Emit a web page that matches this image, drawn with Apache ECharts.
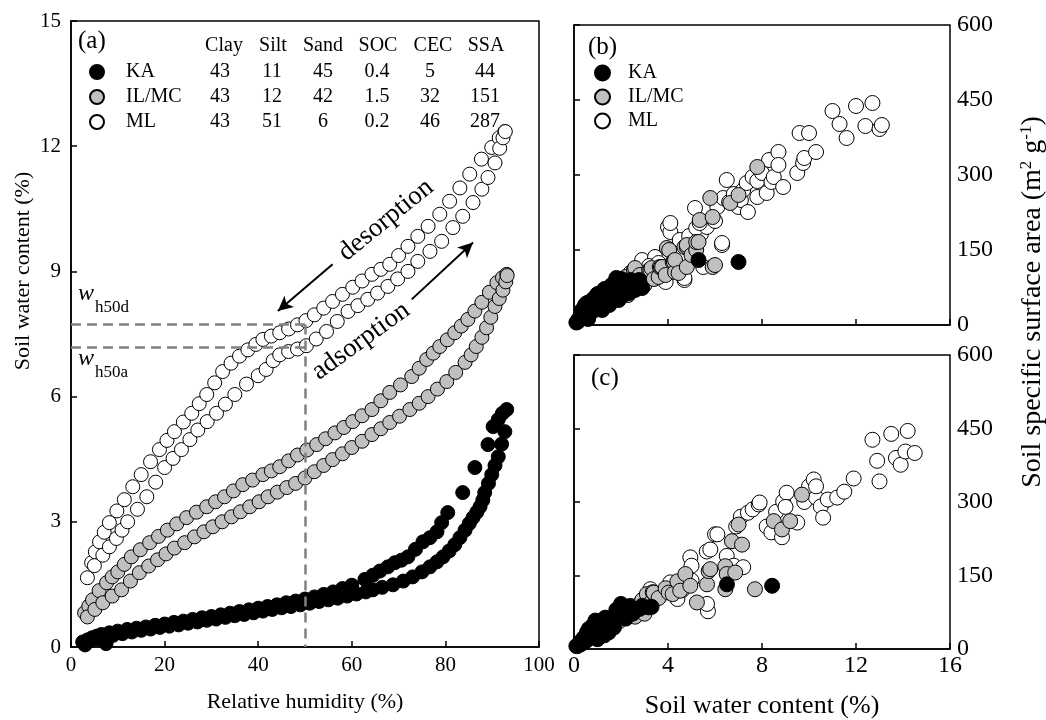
<!DOCTYPE html>
<html>
<head>
<meta charset="utf-8">
<script src="https://cdn.jsdelivr.net/npm/echarts@6/dist/echarts.min.js"></script>
<style>
  html, body { margin: 0; padding: 0; background: #fff; }
  #main { width: 1046px; height: 720px; }
</style>
</head>
<body>
<div id="main"></div>
<script>
// (a) sorption isotherms: [relative humidity %, water content %]
const kaDes = [[2.5,0.12],[3.5,0.17],[4.5,0.22],[5.5,0.26],[6.5,0.3],[8.2,0.34],[10,0.38],[12,0.42],[14,0.45],[16,0.48],[18,0.52],[20,0.55],[22,0.59],[24,0.62],[26,0.66],[28,0.7],[30,0.73],[32,0.77],[34,0.81],[36,0.85],[38,0.89],[40,0.93],[42,0.97],[44,1.01],[46,1.06],[48,1.1],[50,1.15],[52,1.2],[54,1.26],[56,1.32],[58,1.4],[60,1.48],[62.8,1.62],[64.5,1.72],[66,1.82],[67.7,1.92],[69.2,2.02],[70.6,2.08],[72,2.16],[73.6,2.34],[75.2,2.52],[76.7,2.62],[78.2,2.76],[79.2,2.98],[80.5,3.22],[83.7,3.7],[86.3,4.3],[89.1,4.85],[90.2,5.28],[91.3,5.45],[92.2,5.6],[93.1,5.69]];
const kaAds = [[3,0.05],[4,0.15],[5.5,0.2],[7.5,0.08],[9,0.28],[11,0.32],[13,0.36],[15,0.4],[17,0.43],[19,0.47],[21,0.5],[23,0.53],[25,0.57],[27,0.6],[29,0.64],[31,0.67],[33,0.71],[35,0.75],[37,0.78],[39,0.82],[41,0.86],[43,0.9],[45,0.94],[47,0.97],[49,1.01],[51,1.05],[53,1.09],[55,1.13],[57,1.17],[59,1.22],[61,1.27],[63,1.32],[64.5,1.37],[66.5,1.43],[68.8,1.49],[71,1.58],[73,1.68],[75,1.8],[76.7,1.92],[78.2,2.04],[79.5,2.16],[80.8,2.3],[82,2.45],[83.1,2.62],[84.2,2.8],[85.1,2.96],[85.9,3.1],[86.7,3.23],[87.4,3.36],[88,3.52],[88.4,3.7],[89.2,3.92],[89.9,4.13],[90.6,4.35],[91.3,4.56],[92,4.86],[92.7,5.16]];
const ilDes = [[2.9,0.82],[3.8,0.98],[4.6,1.13],[6,1.35],[7.6,1.54],[8.8,1.68],[10,1.8],[11.4,1.98],[12.9,2.16],[14.8,2.33],[16.8,2.5],[18.7,2.65],[20.6,2.8],[22.6,2.95],[24.7,3.1],[26.8,3.23],[29,3.36],[30.9,3.48],[32.8,3.6],[34.7,3.74],[36.7,3.89],[38.8,4],[41,4.13],[42.8,4.22],[44.6,4.32],[46.5,4.46],[48.4,4.6],[50.4,4.72],[52.5,4.85],[54.4,4.99],[56.4,5.13],[58.3,5.26],[60.2,5.4],[62.2,5.54],[64.3,5.69],[66.2,5.9],[68.1,6.1],[70.4,6.28],[72.8,6.48],[74.4,6.68],[76,6.89],[77.4,7.04],[78.8,7.2],[80.4,7.36],[82,7.53],[83.4,7.69],[84.8,7.85],[86.3,8.05],[87.8,8.26],[89.4,8.5],[91,8.73],[92.2,8.85],[93.1,8.93]];
const ilAds = [[3.5,0.72],[5.1,0.9],[6.8,1.06],[8.8,1.22],[10.8,1.37],[12.7,1.58],[14.6,1.78],[16.6,1.94],[18.5,2.09],[20.3,2.23],[22.1,2.37],[24.3,2.5],[26.4,2.64],[28.4,2.76],[30.3,2.88],[32.3,3],[34.3,3.12],[36.2,3.24],[38.2,3.36],[40.2,3.48],[42.1,3.6],[44.1,3.71],[46.1,3.82],[48,3.92],[50,4.05],[52,4.2],[54,4.35],[55.9,4.49],[58,4.63],[60,4.78],[62.2,4.93],[64.3,5.09],[66.2,5.23],[68.1,5.38],[70.2,5.53],[72.4,5.69],[74.4,5.84],[76.3,6],[78.3,6.18],[80.3,6.36],[82.2,6.58],[84.2,6.82],[85.5,7],[86.6,7.2],[87.8,7.42],[88.8,7.65],[89.7,7.9],[90.6,8.16],[91.5,8.35],[92.3,8.55],[92.9,8.75],[93.2,8.9]];
const mlDes = [[3.5,1.66],[4.4,2.02],[5.2,2.28],[6.1,2.52],[7.1,2.75],[8.2,2.98],[9.8,3.26],[11.4,3.53],[13.2,3.84],[15,4.13],[17,4.44],[18.9,4.73],[20.5,4.95],[22.1,5.16],[24,5.39],[25.8,5.6],[27.4,5.83],[29,6.05],[30.7,6.33],[32.4,6.6],[34.2,6.8],[36,6.97],[37.8,7.12],[39.5,7.25],[41,7.37],[42.8,7.45],[44.6,7.53],[46.5,7.62],[48.4,7.72],[50.2,7.82],[52,7.96],[54,8.12],[55.9,8.28],[58,8.45],[60.2,8.62],[62.2,8.77],[64.3,8.93],[66.2,9.05],[68.1,9.17],[70,9.38],[72,9.6],[74.1,9.84],[76.3,10.08],[78.8,10.37],[80.9,10.68],[83.1,11],[85.2,11.33],[87.7,11.69],[89.9,11.97],[91.5,12.2],[92.7,12.35]];
const mlAds = [[5,1.95],[6.8,2.2],[8.2,2.4],[9.7,2.6],[10.9,2.8],[12.1,3],[14.2,3.3],[16.2,3.6],[18.1,3.95],[20,4.3],[21.8,4.52],[23.6,4.73],[25.4,4.97],[27.1,5.2],[29.1,5.4],[31.1,5.6],[33,5.82],[35,6.05],[37.5,6.3],[40,6.5],[41.7,6.65],[43.2,6.86],[44.6,7],[46.5,7.08],[48.4,7.14],[50.3,7.22],[52.4,7.38],[54.6,7.56],[56.9,7.8],[59.2,8.04],[61.3,8.18],[63.4,8.33],[65.5,8.48],[67.7,8.64],[69.8,8.82],[72,9],[74.1,9.24],[76.7,9.48],[79.2,9.72],[81.6,10.05],[83.7,10.32],[85.9,10.65],[87.8,10.97],[89.1,11.25],[90.6,11.6],[91.6,11.95],[92.3,12.2],[92.8,12.35]];

// (b) and (c): [soil water content %, SSA m2/g]
const kaB = [[0.1,5],[0.2,12],[0.3,20],[0.34,30],[0.45,26],[0.47,40],[0.55,44],[0.6,12],[0.6,32],[0.68,24],[0.77,50],[0.8,40],[0.9,38],[0.9,56],[1,44],[1,62],[1.06,56],[1.06,36],[1.2,30],[1.2,48],[1.2,66],[1.3,72],[1.32,64],[1.4,56],[1.5,40],[1.55,60],[1.6,80],[1.7,76],[1.8,84],[1.8,94],[1.9,50],[2,92],[2.04,84],[2.1,60],[2.2,72],[2.34,64],[2.4,90],[2.5,78],[2.6,70],[2.68,86],[2.77,90],[2.9,74],[5.3,130],[7,126]];
const ilB = [[0.15,6],[0.3,12],[0.5,18],[0.7,26],[0.9,32],[1.1,40],[1.3,48],[1.5,56],[1.6,68],[1.8,64],[1.9,74],[2.17,80],[2.2,96],[2.3,60],[2.4,92],[2.55,110],[2.6,114],[2.8,100],[2.98,90],[3,80],[3.2,110],[3.25,110],[3.3,114],[3.4,92],[3.6,96],[3.65,116],[3.7,116],[3.75,116],[3.9,100],[3.95,154],[4.05,150],[4.2,126],[4.25,126],[4.3,106],[4.3,130],[4.45,104],[4.7,156],[4.8,116],[4.8,156],[4.8,160],[5,140],[5.2,150],[5.2,166],[5.3,166],[5.35,210],[5.8,254],[5.9,216],[5.9,116],[6,120],[6.65,244],[7,260],[7.8,316]];
const mlB = [[0.2,8],[0.35,14],[0.5,18],[0.7,24],[0.9,30],[1.1,36],[1.3,42],[1.5,48],[1.7,54],[1.9,60],[2.1,66],[2.3,74],[2.5,82],[2.7,92],[2.9,102],[2.4,104],[2.9,130],[3.45,136],[3.2,118],[3.6,124],[3.9,86],[4.1,112],[4.7,90],[4.7,94],[5.5,116],[4,196],[4.1,186],[4.1,204],[4.5,170],[4.9,178],[5.4,182],[5.15,234],[5.2,194],[5.65,196],[5.35,204],[5.9,214],[6,208],[6.1,236],[6.35,254],[6.5,290],[6.3,160],[6.3,164],[6.6,246],[6.8,262],[7,236],[7.1,250],[7.2,270],[7.35,284],[7.4,226],[7.6,296],[7.8,256],[7.8,288],[8,304],[8.2,264],[8.4,286],[8.5,296],[8.3,330],[8.7,346],[8.7,320],[8.9,276],[9.5,304],[9.75,324],[9.8,334],[9.6,384],[10,384],[10.3,346],[11,428],[11.3,402],[11.6,374],[12,438],[12.4,398],[12.7,444],[13,392],[13.1,400]];
const kaC = [[0.1,6],[0.25,14],[0.3,10],[0.4,22],[0.48,24],[0.5,16],[0.55,34],[0.63,41],[0.7,30],[0.8,48],[0.9,40],[0.91,58],[1,20],[1.05,34],[1.1,52],[1.2,46],[1.3,28],[1.33,64],[1.48,34],[1.5,56],[1.6,60],[1.7,44],[1.8,80],[1.83,68],[2,76],[2,92],[2.2,62],[2.26,85],[2.4,86],[2.5,72],[2.6,80],[2.8,82],[2.9,88],[3.18,85],[3.3,86],[6.51,132],[8.43,129]];
const ilC = [[0.15,6],[0.3,12],[0.5,18],[0.7,24],[0.9,30],[1.1,38],[1.3,44],[1.6,52],[1.7,58],[1.9,60],[2,72],[2.2,70],[2.4,88],[2.5,80],[2.6,66],[2.8,92],[2.9,100],[3,72],[3.1,112],[3.3,96],[3.35,116],[3.39,115],[3.6,104],[3.9,124],[4.03,115],[4.2,112],[4.4,138],[4.52,119],[4.74,153],[4.95,129],[5.23,95],[5.66,132],[5.73,159],[5.8,163],[6.44,169],[6.44,122],[6.5,153],[6.72,220],[6.86,156],[7,254],[7.15,213],[7.7,122],[8.5,261],[8.85,244],[9.2,261],[9.7,315]];
const mlC = [[0.2,8],[0.4,14],[0.6,20],[0.8,26],[1,32],[1.3,40],[1.6,48],[1.9,56],[2.2,64],[2.5,74],[2.8,84],[3,96],[3.25,122],[3.4,108],[4.1,136],[4.4,102],[4.6,120],[5,140],[5.7,77],[5.66,92],[4.95,187],[5,170],[5.65,199],[5.8,203],[6,234],[6.1,234],[6.5,190],[6.8,170],[7.2,167],[6.9,250],[7.1,270],[7.4,278],[7.6,285],[7.86,295],[7.9,299],[8.2,250],[8.4,238],[8.6,280],[8.85,228],[8.9,301],[9.05,319],[9,290],[9.5,258],[9.8,300],[10,332],[10.2,346],[10.3,309],[10.3,332],[10.5,291],[10.6,268],[10.8,305],[11.2,309],[11.5,321],[11.9,348],[12.7,427],[12.9,384],[13,342],[13.5,439],[13.7,390],[13.9,376],[14.1,403],[14.2,445],[14.5,400]];

// soil properties table in (a)
const propNames = ['Clay', 'Silt', 'Sand', 'SOC', 'CEC', 'SSA'];
const kaProps = ['43', '11', '45', '0.4', '5', '44'];
const ilProps = ['43', '12', '42', '1.5', '32', '151'];
const mlProps = ['43', '51', '6', '0.2', '46', '287'];

// reference levels
const wh50d = 7.73;
const wh50a = 7.18;

const FONT = '"Liberation Serif", "Times New Roman", serif';
const GRAY = '#c0c0c0';
const styles = {
  KA: { color: '#000', borderColor: '#000', borderWidth: 1, opacity: 1 },
  'IL/MC': { color: GRAY, borderColor: '#000', borderWidth: 1, opacity: 1 },
  ML: { color: '#fff', borderColor: '#000', borderWidth: 1, opacity: 1 }
};

const chart = echarts.init(document.getElementById('main'));

function sc(name, data, idx, size, extra) {
  return Object.assign({
    type: 'scatter', name: name, data: data,
    xAxisIndex: idx, yAxisIndex: idx,
    symbolSize: size, itemStyle: styles[name],
    animation: false
  }, extra || {});
}

const dashStyle = { color: '#808080', type: [10, 6], width: 2.5 };

// table text
const colX = [224, 273, 323, 378, 433, 486];
const valX = [220, 272, 323, 377, 430, 485];
const rowY = [72, 97, 122];
const tableText = [];
propNames.forEach((p, i) => {
  tableText.push({ type: 'text', x: colX[i], y: 46,
    style: { text: p, font: '20px ' + FONT, fill: '#000', align: 'center', verticalAlign: 'middle' } });
});
[kaProps, ilProps, mlProps].forEach((row, r) => {
  row.forEach((v, i) => {
    tableText.push({ type: 'text', x: valX[i], y: rowY[r],
      style: { text: v, font: '20px ' + FONT, fill: '#000', align: 'center', verticalAlign: 'middle' } });
  });
});

const axisLine = { show: true, lineStyle: { color: '#000', width: 1.5 } };
const tickIn = { show: true, inside: true, length: 6, lineStyle: { color: '#000', width: 1.5 } };
const tickOut = { show: true, inside: false, length: 6, lineStyle: { color: '#000', width: 1.5 } };
const lblA = { color: '#000', fontFamily: FONT, fontSize: 21 };
const lblB = { color: '#000', fontFamily: FONT, fontSize: 24 };

const option = {
  animation: false,
  backgroundColor: '#fff',
  grid: [
    { left: 71, top: 21, width: 468, height: 626, show: true, borderColor: '#000', borderWidth: 1.5, backgroundColor: 'transparent' },
    { left: 574, top: 25, width: 376, height: 300, show: true, borderColor: '#000', borderWidth: 1.5, backgroundColor: 'transparent' },
    { left: 574, top: 355, width: 376, height: 295, show: true, borderColor: '#000', borderWidth: 1.5, backgroundColor: 'transparent' }
  ],
  xAxis: [
    { gridIndex: 0, type: 'value', min: 0, max: 100, interval: 20, axisLine, axisTick: tickIn, splitLine: { show: false },
      axisLabel: Object.assign({ margin: 8 }, lblA),
      name: 'Relative humidity (%)', nameLocation: 'middle', nameGap: 44,
      nameTextStyle: { color: '#000', fontFamily: FONT, fontSize: 22 } },
    { gridIndex: 1, type: 'value', min: 0, max: 16, interval: 4, axisLine, axisTick: tickIn, splitLine: { show: false },
      axisLabel: { show: false } },
    { gridIndex: 2, type: 'value', min: 0, max: 16, interval: 4, axisLine, axisTick: tickIn, splitLine: { show: false },
      axisLabel: Object.assign({ margin: 5 }, lblB),
      name: 'Soil water content (%)', nameLocation: 'middle', nameGap: 44,
      nameTextStyle: { color: '#000', fontFamily: FONT, fontSize: 26 } }
  ],
  yAxis: [
    { gridIndex: 0, type: 'value', min: 0, max: 15, interval: 3, axisLine, axisTick: tickIn, splitLine: { show: false },
      axisLabel: Object.assign({ margin: 10 }, lblA) },
    { gridIndex: 1, type: 'value', position: 'right', min: 0, max: 600, interval: 150, axisLine, axisTick: tickOut, splitLine: { show: false },
      axisLabel: Object.assign({ margin: 7 }, lblB) },
    { gridIndex: 2, type: 'value', position: 'right', min: 0, max: 600, interval: 150, axisLine, axisTick: tickOut, splitLine: { show: false },
      axisLabel: Object.assign({ margin: 7 }, lblB) }
  ],
  legend: [
    { data: ['KA', 'IL/MC', 'ML'], orient: 'vertical', left: 84, top: 57, itemWidth: 14, itemHeight: 14, itemGap: 5,
      icon: 'circle', selectedMode: false,
      textStyle: { color: '#000', fontFamily: FONT, fontSize: 20, padding: [0, 0, 0, 17] } },
    { data: ['KA', 'IL/MC', 'ML'], orient: 'vertical', left: 589, top: 58, itemWidth: 15, itemHeight: 15, itemGap: 4,
      icon: 'circle', selectedMode: false,
      textStyle: { color: '#000', fontFamily: FONT, fontSize: 20, padding: [0, 0, 0, 13] } }
  ],
  series: [
    sc('ML', mlDes.concat(mlAds), 0, 14, {
      markLine: { silent: true, symbol: 'none', animation: false, label: { show: false },
        lineStyle: dashStyle,
        data: [
          [{ coord: [0, wh50d] }, { coord: [50, wh50d] }],
          [{ coord: [0, wh50a] }, { coord: [50, wh50a] }],
          [{ coord: [50, wh50d] }, { coord: [50, 0] }]
        ] }
    }),
    sc('IL/MC', ilDes.concat(ilAds), 0, 14, {
      markLine: { silent: true, animation: false, label: { show: false },
        symbol: ['none', 'arrow'], symbolSize: [11, 15],
        lineStyle: { color: '#000', type: 'solid', width: 2 },
        data: [
          [{ coord: [55.9, 9.17] }, { coord: [44.2, 8.05] }],
          [{ coord: [72.8, 8.33] }, { coord: [85.9, 9.69] }]
        ] }
    }),
    sc('KA', kaDes.concat(kaAds), 0, 14),
    sc('ML', mlB, 1, 15),
    sc('IL/MC', ilB, 1, 15),
    sc('KA', kaB, 1, 15),
    sc('ML', mlC, 2, 15),
    sc('IL/MC', ilC, 2, 15),
    sc('KA', kaC, 2, 15)
  ],
  graphic: [
    { type: 'text', x: 78, y: 41, style: { text: '(a)', font: '25px ' + FONT, fill: '#000', verticalAlign: 'middle' } },
    { type: 'text', x: 588, y: 47, style: { text: '(b)', font: '25px ' + FONT, fill: '#000', verticalAlign: 'middle' } },
    { type: 'text', x: 591, y: 378, style: { text: '(c)', font: '25px ' + FONT, fill: '#000', verticalAlign: 'middle' } },
    { type: 'text', x: 78, y: 306, style: { text: 'w', font: 'italic 24px ' + FONT, fill: '#000', verticalAlign: 'bottom' } },
    { type: 'text', x: 95, y: 316, style: { text: 'h50d', font: '17px ' + FONT, fill: '#000', verticalAlign: 'bottom' } },
    { type: 'text', x: 78, y: 371, style: { text: 'w', font: 'italic 24px ' + FONT, fill: '#000', verticalAlign: 'bottom' } },
    { type: 'text', x: 95, y: 381, style: { text: 'h50a', font: '17px ' + FONT, fill: '#000', verticalAlign: 'bottom' } },
    { type: 'text', x: 386, y: 220, rotation: 39 * Math.PI / 180,
      style: { text: 'desorption', font: '27px ' + FONT, fill: '#000', align: 'center', verticalAlign: 'middle' } },
    { type: 'text', x: 361, y: 341, rotation: 36 * Math.PI / 180,
      style: { text: 'adsorption', font: '27px ' + FONT, fill: '#000', align: 'center', verticalAlign: 'middle' } },
    { type: 'text', x: 23, y: 271, rotation: Math.PI / 2,
      style: { text: 'Soil water content (%)', font: '22px ' + FONT, fill: '#000', align: 'center', verticalAlign: 'middle' } },
    { type: 'text', x: 1033, y: 302, rotation: Math.PI / 2,
      style: { text: 'Soil specific surface area (m{sup|2} g{sup|-1})', font: '28px ' + FONT, fill: '#000',
        align: 'center', verticalAlign: 'middle',
        rich: { sup: { fontSize: 17, fontFamily: FONT, verticalAlign: 'top', padding: [0, 0, 12, 0] } } } }
  ].concat(tableText)
};

chart.setOption(option);
</script>
</body>
</html>
